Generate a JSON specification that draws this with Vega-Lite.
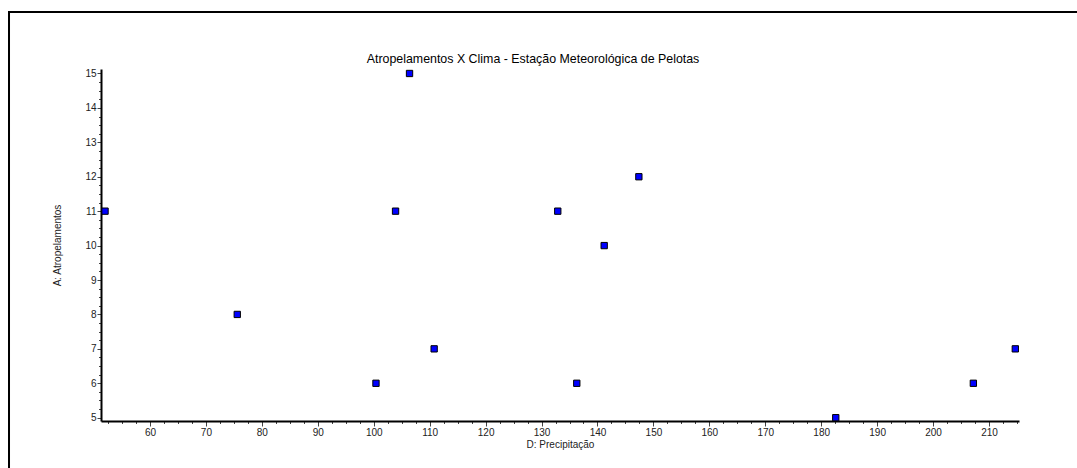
{
  "$schema": "https://vega.github.io/schema/vega-lite/v6.json",
  "padding": {"left": 8, "top": 11, "right": 0, "bottom": 0},
  "background": "white",
  "config": {"view": {"stroke": null}, "font": "Liberation Sans"},
  "bounds": "flush",
  "spacing": 0,
  "hconcat": [
    {
      "width": 0.01,
      "height": 460,
      "data": {"values": []},
      "mark": {"type": "point", "opacity": 0},
      "view": {"stroke": "black", "strokeWidth": 2}
    },
    {
      "bounds": "flush",
      "spacing": 56,
      "vconcat": [
        {
          "width": 1080,
          "height": 0.01,
          "data": {"values": []},
          "mark": {"type": "point", "opacity": 0},
          "view": {"stroke": "black", "strokeWidth": 2}
        },
        {
          "bounds": "flush",
          "spacing": 90,
          "hconcat": [
            {
              "width": 0.01,
              "height": 0.01,
              "data": {"values": []},
              "mark": {"type": "point", "opacity": 0}
            },
            {
              "width": 918,
              "height": 352,
              "title": {
                "text": "Atropelamentos X Clima - Estação Meteorológica de Pelotas",
                "fontSize": 12.4,
                "fontWeight": "normal",
                "color": "#000000",
                "font": "Liberation Sans",
                "anchor": "middle",
                "dx": -27,
                "offset": 3
              },
              "data": {
                "values": [
                  {"precip": 51.96, "atrop": 11},
                  {"precip": 75.6, "atrop": 8},
                  {"precip": 100.4, "atrop": 6},
                  {"precip": 103.9, "atrop": 11},
                  {"precip": 106.4, "atrop": 15},
                  {"precip": 110.8, "atrop": 7},
                  {"precip": 132.9, "atrop": 11},
                  {"precip": 136.3, "atrop": 6},
                  {"precip": 141.2, "atrop": 10},
                  {"precip": 147.4, "atrop": 12},
                  {"precip": 182.6, "atrop": 5},
                  {"precip": 207.2, "atrop": 6},
                  {"precip": 214.7, "atrop": 7}
                ]
              },
              "mark": {
                "type": "point",
                "shape": "square",
                "filled": true,
                "fill": "#0000ff",
                "stroke": "#000000",
                "strokeWidth": 1,
                "size": 40,
                "opacity": 1
              },
              "encoding": {
                "x": {
                  "field": "precip",
                  "type": "quantitative",
                  "scale": {"domain": [51.24, 215.36], "nice": false, "zero": false},
                  "axis": {
                    "title": "D: Precipitação",
                    "values": [52.5, 55, 57.5, 60, 62.5, 65, 67.5, 70, 72.5, 75, 77.5, 80, 82.5, 85, 87.5, 90, 92.5, 95, 97.5, 100, 102.5, 105, 107.5, 110, 112.5, 115, 117.5, 120, 122.5, 125, 127.5, 130, 132.5, 135, 137.5, 140, 142.5, 145, 147.5, 150, 152.5, 155, 157.5, 160, 162.5, 165, 167.5, 170, 172.5, 175, 177.5, 180, 182.5, 185, 187.5, 190, 192.5, 195, 197.5, 200, 202.5, 205, 207.5, 210, 212.5, 215],
                    "labelExpr": "datum.value % 10 === 0 ? format(datum.value, 'd') : ''",
                    "labelOverlap": false,
                    "labelFlush": false,
                    "grid": false,
                    "domainColor": "#000000",
                    "domainWidth": 2,
                    "tickColor": "#444444",
                    "tickWidth": 1,
                    "tickSize": {"condition": {"test": "datum.value % 10 === 0", "value": 5}, "value": 2.5},
                    "labelPadding": 1,
                    "labelFontSize": 10,
                    "labelColor": "#222222",
                    "labelFont": "Liberation Sans",
                    "titleFontSize": 10,
                    "titleFontWeight": "normal",
                    "titleColor": "#222222",
                    "titleFont": "Liberation Sans",
                    "titlePadding": 2
                  }
                },
                "y": {
                  "field": "atrop",
                  "type": "quantitative",
                  "scale": {"domain": [4.904, 15.13], "nice": false, "zero": false},
                  "axis": {
                    "title": "A: Atropelamentos",
                    "values": [5, 5.25, 5.5, 5.75, 6, 6.25, 6.5, 6.75, 7, 7.25, 7.5, 7.75, 8, 8.25, 8.5, 8.75, 9, 9.25, 9.5, 9.75, 10, 10.25, 10.5, 10.75, 11, 11.25, 11.5, 11.75, 12, 12.25, 12.5, 12.75, 13, 13.25, 13.5, 13.75, 14, 14.25, 14.5, 14.75, 15],
                    "labelExpr": "datum.value % 1 === 0 ? format(datum.value, 'd') : ''",
                    "labelOverlap": false,
                    "labelFlush": false,
                    "grid": false,
                    "domainColor": "#000000",
                    "domainWidth": 2,
                    "tickColor": "#444444",
                    "tickWidth": 1,
                    "tickSize": {"condition": {"test": "datum.value % 1 === 0", "value": 4}, "value": 2.5},
                    "labelPadding": 1,
                    "labelFontSize": 10,
                    "labelColor": "#222222",
                    "labelFont": "Liberation Sans",
                    "titleFontSize": 10,
                    "titleFontWeight": "normal",
                    "titleColor": "#222222",
                    "titleFont": "Liberation Sans",
                    "titlePadding": 22
                  }
                }
              }
            }
          ]
        }
      ]
    }
  ]
}
